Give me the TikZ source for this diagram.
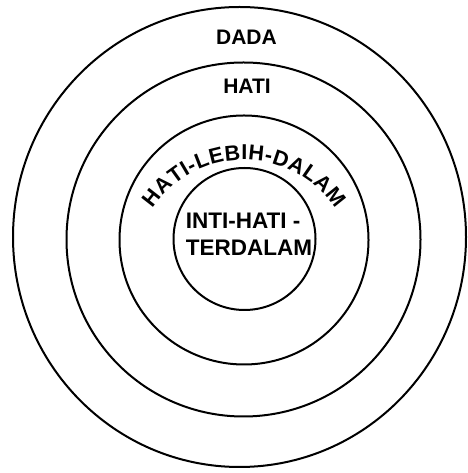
\documentclass[tikz,border=0pt]{standalone}
\usepackage{fontspec}
\setmainfont{Liberation Sans}
\usetikzlibrary{decorations.text}
\tikzset{
  ring/.style={draw=black, line width=2pt},
  lbl/.style={font=\bfseries\fontsize{21}{25}\selectfont, inner sep=0pt, align=center}
}
\begin{document}
\begin{tikzpicture}[x=1pt,y=1pt]
\useasboundingbox (0,0) rectangle (467,473);
\fill[white] (0,0) rectangle (467,473);
\draw[ring] (239.5,236) ellipse [x radius=226.5, y radius=230];
\draw[ring] (243.5,233.5) circle [radius=177];
\draw[ring] (244,233) circle [radius=124.5];
\draw[ring] (244.5,234) circle [radius=71];
\node[lbl] (dada) at (246.5,436) {DADA};
\node[lbl] (hati) at (247,386.5) {HATI};
\node[lbl, align=left, font=\bfseries\fontsize{22.5}{27}\selectfont] (inti) at (249,239) {INTI-HATI -\\TERDALAM};
\coordinate (arcc) at (244,203);
\path[decorate, decoration={text along path, text align=fit to path,
  text={|\bfseries\fontsize{21.5}{25}\selectfont|HATI-LEBIH-DALAM}}]
  (arcc) ++(146:110) arc[start angle=146, end angle=34, radius=110];
\end{tikzpicture}
\end{document}
